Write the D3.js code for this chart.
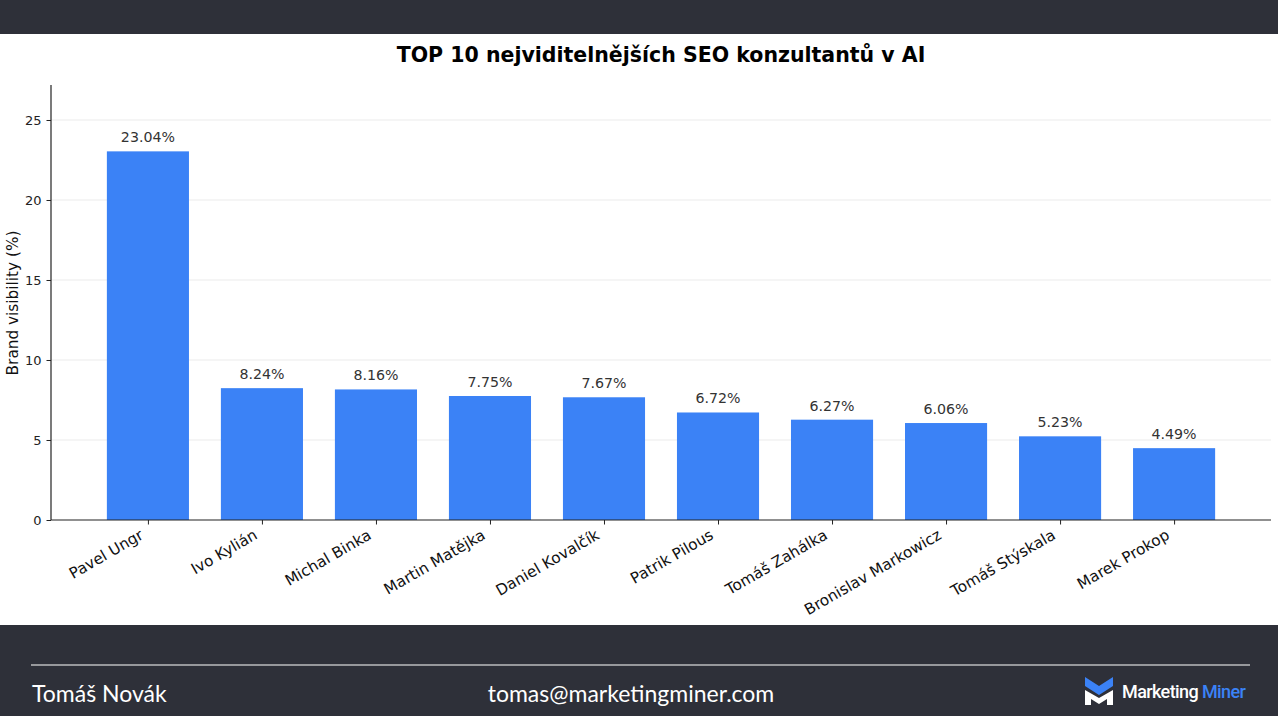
<!DOCTYPE html>
<html><head><meta charset="utf-8">
<script src="https://cdn.jsdelivr.net/npm/d3@7"></script>
<style>
html,body{margin:0;padding:0;background:#fff;}
svg{display:block;}
</style></head>
<body>
<svg id="chart" width="1278" height="716"></svg>
<script>
const names = ["Pavel Ungr","Ivo Kylián","Michal Binka","Martin Matějka","Daniel Kovalčík","Patrik Pilous","Tomáš Zahálka","Bronislav Markowicz","Tomáš Stýskala","Marek Prokop"];
const values = [23.04,8.24,8.16,7.75,7.67,6.72,6.27,6.06,5.23,4.49];
const yTicks = [0,5,10,15,20,25];
const title = "TOP 10 nejviditelnějších SEO konzultantů v AI";
const yLabel = "Brand visibility (%)";
const footerName = "Tomáš Novák";
const footerEmail = "tomas@marketingminer.com";

(function(){
const svg = d3.select("#chart");
const W = 1278, H = 716;
const dark = "#2e3039";
svg.append("rect").attr("x",0).attr("y",0).attr("width",W).attr("height",34).attr("fill",dark);
svg.append("rect").attr("x",0).attr("y",625).attr("width",W).attr("height",H-625).attr("fill",dark);

const pL = 51, pR = 1271, pT = 85, pB = 520;
const x = d3.scaleLinear().domain([-0.85, names.length-1+0.85]).range([pL,pR]);
const y = d3.scaleLinear().domain([0, d3.max(values)*1.18]).range([pB, pT]);
const bw = 0.72*(x(1)-x(0));

// grid
svg.append("g").selectAll("line").data(yTicks.filter(d=>d>0)).join("line")
  .attr("x1",pL).attr("x2",pR).attr("y1",d=>y(d)).attr("y2",d=>y(d))
  .attr("stroke","#e6e6e6").attr("stroke-width",0.8);

// bars
svg.append("g").selectAll("rect").data(values).join("rect")
  .attr("x",(d,i)=>x(i)-bw/2).attr("width",bw)
  .attr("y",d=>y(d)).attr("height",d=>pB-y(d))
  .attr("fill","#3b82f6");

// value labels
svg.append("g").selectAll("text").data(values).join("text")
  .attr("x",(d,i)=>x(i)).attr("y",d=>y(d)-9)
  .attr("text-anchor","middle").attr("font-family","DejaVu Sans").attr("font-size",14.2)
  .attr("fill","#333").text(d=>d.toFixed(2)+"%");

// y axis
const yAxis = svg.append("g").attr("transform",`translate(${pL},0)`)
  .call(d3.axisLeft(y).tickValues(yTicks).tickSize(4.5).tickPadding(5).tickFormat(d3.format("d")));
yAxis.select(".domain").attr("d",`M0,${pT}V${pB}`).attr("stroke","#222").attr("stroke-width",1.2);
yAxis.selectAll(".tick line").attr("stroke","#222");
yAxis.selectAll("text").attr("font-family","DejaVu Sans").attr("font-size",13).attr("fill","#222");

// x axis
const xAxis = svg.append("g").attr("transform",`translate(0,${pB})`)
  .call(d3.axisBottom(x).tickValues(d3.range(names.length)).tickSize(4.5).tickFormat(i=>names[i]));
xAxis.select(".domain").attr("d",`M${pL},0H${pR}`).attr("stroke","#222").attr("stroke-width",1.2);
xAxis.selectAll(".tick line").attr("stroke","#222");
xAxis.selectAll("text").attr("font-family","DejaVu Sans").attr("font-size",15.3).attr("fill","#111")
  .attr("text-anchor","end").attr("dy",null).attr("y",null)
  .attr("transform","translate(-4,18) rotate(-30)");

// title
svg.append("text").attr("x",661).attr("y",62).attr("text-anchor","middle")
  .attr("font-family","DejaVu Sans").attr("font-weight","bold").attr("font-size",20.5).attr("fill","#000").text(title);

// y label
svg.append("text").attr("transform",`translate(18,303) rotate(-90)`)
  .attr("text-anchor","middle").attr("font-family","DejaVu Sans").attr("font-size",15.3).attr("fill","#111").text(yLabel);

// footer
svg.append("line").attr("x1",31).attr("x2",1250).attr("y1",665).attr("y2",665).attr("stroke","#fff").attr("stroke-width",1.2);
svg.append("text").attr("x",32).attr("y",702).attr("font-family","Lato").attr("font-size",23).attr("fill","#fff").text(footerName);
svg.append("text").attr("x",631).attr("y",702).attr("text-anchor","middle").attr("font-family","Lato").attr("font-size",23).attr("fill","#fff").text(footerEmail);

// logo
const lg = svg.append("g").attr("transform","translate(1085,677)");
lg.append("path").attr("d","M0,0 L14,9 L28,0 L28,9 L14,18 L0,9 Z").attr("fill","#3b82f6");
lg.append("path").attr("d","M0,13 L14,21 L28,13 L28,28 L22,28 L22,22 L14,27 L6,22 L6,28 L0,28 Z").attr("fill","#fff");
const lt = svg.append("text").attr("x",1122).attr("y",698).attr("font-family","Roboto").attr("font-weight","500")
  .attr("font-size",18).attr("letter-spacing",-0.6).attr("fill","#fff");
lt.append("tspan").text("Marketing ");
lt.append("tspan").attr("fill","#3b82f6").text("Miner");
})();
</script>
</body></html>
